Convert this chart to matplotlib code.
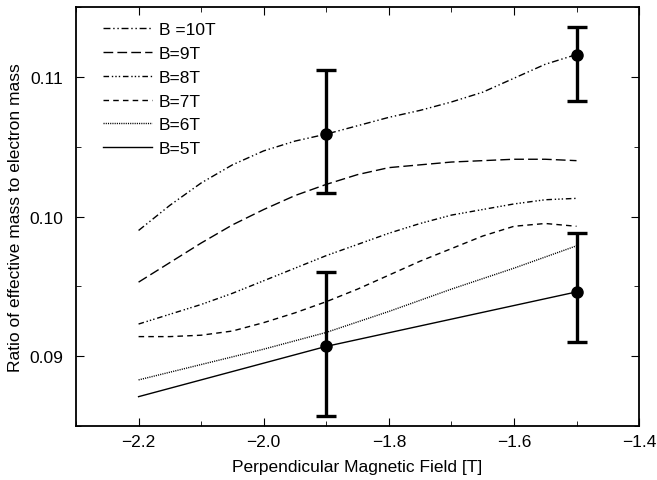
import matplotlib
matplotlib.use("Agg")
import matplotlib.pyplot as plt
from matplotlib.ticker import MultipleLocator

plt.rcParams['font.family'] = ['Liberation Sans', 'DejaVu Sans']

# curves (x = perpendicular field [T])
x_fine = [-2.2, -2.15, -2.1, -2.05, -2.0, -1.95, -1.9, -1.85, -1.8,
          -1.75, -1.7, -1.65, -1.6, -1.55, -1.5]
b10 = [0.0990, 0.1008, 0.1024, 0.1037, 0.1047, 0.1054, 0.1059, 0.1065,
       0.1071, 0.1076, 0.1082, 0.1089, 0.1099, 0.1109, 0.1116]
b9 = [0.0953, 0.0967, 0.0981, 0.0994, 0.1005, 0.1015, 0.1023, 0.1030,
      0.1035, 0.1037, 0.1039, 0.1040, 0.1041, 0.1041, 0.1040]
b8 = [0.0923, 0.0930, 0.0937, 0.0945, 0.0954, 0.0963, 0.0972, 0.0980,
      0.0988, 0.0995, 0.1001, 0.1005, 0.1009, 0.1012, 0.1013]
b7 = [0.0914, 0.0914, 0.0915, 0.0918, 0.0924, 0.0931, 0.0939, 0.0948,
      0.0958, 0.0968, 0.0977, 0.0986, 0.0993, 0.0995, 0.0993]
x_coarse = [-2.2, -2.1, -2.0, -1.9, -1.8, -1.7, -1.6, -1.5]
b6 = [0.0883, 0.0894, 0.0905, 0.0917, 0.0932, 0.0948, 0.0963, 0.0979]
x_b5 = [-2.2, -1.9, -1.5]
b5 = [0.0871, 0.0907, 0.0946]

# measured points with error bars
meas_x = [-1.9, -1.5, -1.9, -1.5]
meas_y = [0.1059, 0.1116, 0.0907, 0.0946]
meas_lo = [0.0042, 0.0033, 0.0050, 0.0036]
meas_hi = [0.0046, 0.0020, 0.0053, 0.0042]

fig = plt.figure(figsize=(6.57, 4.81), dpi=100)
ax = fig.add_axes([0.1157, 0.1123, 0.857, 0.871])

ax.plot(x_fine, b10, color='black', lw=1.0, ls=(0, (5, 2, 1, 2, 1, 2)), label='B =10T')
ax.plot(x_fine, b9, color='black', lw=1.0, ls=(0, (7, 3)), label='B=9T')
ax.plot(x_fine, b8, color='black', lw=1.0, ls=(0, (4, 2, 1, 1.5, 1, 1.5, 1, 2)), label='B=8T')
ax.plot(x_fine, b7, color='black', lw=1.0, ls=(0, (4, 3)), label='B=7T')
ax.plot(x_coarse, b6, color='black', lw=1.0, ls=(0, (0.8, 0.8)), label='B=6T')
ax.plot(x_b5, b5, color='black', lw=1.0, ls='-', label='B=5T')

ax.errorbar(meas_x, meas_y, yerr=[meas_lo, meas_hi], fmt='o', color='black',
            ms=8, elinewidth=2.4, capsize=7, capthick=2.4)

ax.set_xlim(-2.3, -1.4)
ax.set_ylim(0.085, 0.115)
ax.xaxis.set_major_locator(MultipleLocator(0.2))
ax.xaxis.set_minor_locator(MultipleLocator(0.1))
ax.yaxis.set_major_locator(MultipleLocator(0.01))
ax.yaxis.set_minor_locator(MultipleLocator(0.005))
ax.yaxis.set_major_formatter(matplotlib.ticker.FormatStrFormatter('%.2f'))
ax.tick_params(which='both', direction='in', top=True, right=True, labelsize=12.5)
ax.tick_params(which='major', length=5.5)
ax.tick_params(which='minor', length=3.5)
ax.tick_params(axis='x', pad=6)
ax.tick_params(axis='y', pad=9)
for s in ax.spines.values():
    s.set_linewidth(1.3)

ax.set_xlabel('Perpendicular Magnetic Field [T]', fontsize=12.5, labelpad=7)
ax.set_ylabel('Ratio of effective mass to electron mass', fontsize=12.5, labelpad=5)

ax.legend(loc='upper left', bbox_to_anchor=(0.0355, 0.981), frameon=False,
          fontsize=12.5, handlelength=2.8, labelspacing=0.5, borderaxespad=0,
          handletextpad=0.4)

fig.savefig('out.png', dpi=100)
